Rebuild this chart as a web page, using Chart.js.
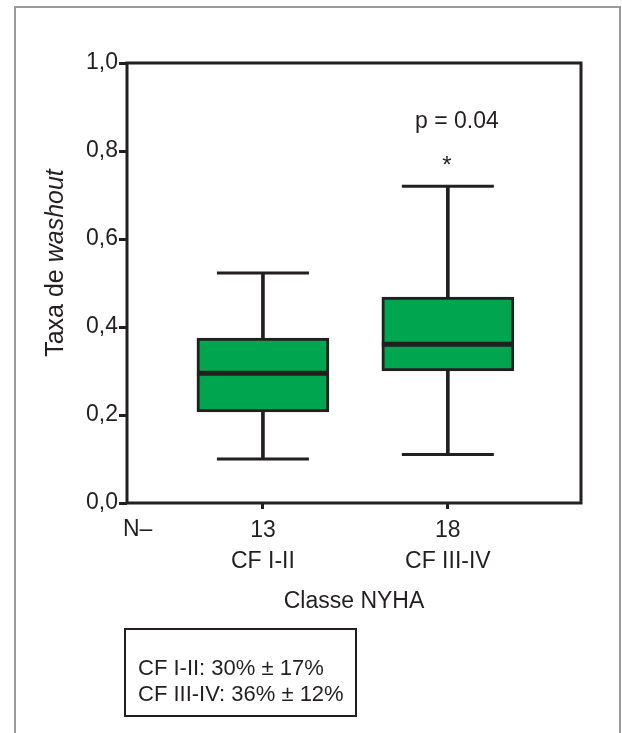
<!DOCTYPE html>
<html>
<head>
<meta charset="utf-8">
<script src="https://cdn.jsdelivr.net/npm/chart.js@4.4.0/dist/chart.umd.min.js"></script>
<style>
  html, body { margin: 0; padding: 0; background: #fff; overflow: hidden; }
  body { width: 622px; height: 733px; position: relative; color: #231f20;
         font-family: 'Liberation Sans Narrow', 'Arial Narrow', 'Liberation Sans', sans-serif; }
  #frame { position: absolute; left: 14px; top: 6px; width: 607px; height: 780px;
           border: 2px solid #9a9a9a; box-sizing: border-box; }
  #chart { position: absolute; left: 0; top: 0; }
  #stats { position: absolute; left: 124px; top: 628px; width: 233px; height: 89px;
           border: 2px solid #231f20; box-sizing: border-box; padding: 25px 0 0 12px;
           font-size: 22px; line-height: 26px; white-space: nowrap; }
</style>
</head>
<body>
<div id="frame"></div>
<canvas id="chart" width="622" height="733"></canvas>
<div id="stats"></div>
<script>
// data
const groups = ["CF I-II", "CF III-IV"];
const nCounts = ["13", "18"];
const xPos = [1, 2];
const whiskerLow = [0.10, 0.11];
const q1 = [0.207, 0.30];
const median = [0.295, 0.361];
const q3 = [0.375, 0.468];
const whiskerHigh = [0.523, 0.72];
const yTicks = [0, 0.2, 0.4, 0.6, 0.8, 1.0];
const statLines = ["CF I-II: 30% ± 17%", "CF III-IV: 36% ± 12%"];
const pValueText = "p = 0.04";
const starText = "*";

const INK = "#231f20";
const GREEN = "#00a54f";
const FAMILY = "'Liberation Sans Narrow', 'Arial Narrow', 'Liberation Sans', sans-serif";

document.getElementById("stats").innerHTML = statLines.join("<br>");

// frame, y title, N label and p-value annotation
const extras = {
  id: "extras",
  afterDraw(chart) {
    const { ctx, chartArea: a, scales } = chart;
    ctx.save();
    ctx.strokeStyle = INK;
    ctx.lineWidth = 3;
    ctx.strokeRect(a.left, a.top, a.right - a.left, a.bottom - a.top);

    ctx.fillStyle = INK;
    ctx.textBaseline = "alphabetic";

    // y axis title, "washout" in italics
    const partA = "Taxa de ";
    const partB = "washout";
    ctx.font = "25px " + FAMILY;
    const wA = ctx.measureText(partA).width;
    ctx.font = "italic 25px " + FAMILY;
    const wB = ctx.measureText(partB).width;
    ctx.translate(63, 263 + (wA + wB) / 2);
    ctx.rotate(-Math.PI / 2);
    ctx.textAlign = "left";
    ctx.font = "25px " + FAMILY;
    ctx.fillText(partA, 0, 0);
    ctx.font = "italic 25px " + FAMILY;
    ctx.fillText(partB, wA, 0);
    ctx.setTransform(1, 0, 0, 1, 0, 0);

    // N– at the start of the x axis
    ctx.font = "23px " + FAMILY;
    ctx.textAlign = "left";
    ctx.fillText("N–", a.left - 4, 536);

    // p value and star above the second group
    const px = scales.x.getPixelForValue(xPos[1]);
    const capY = scales.y.getPixelForValue(whiskerHigh[1]);
    ctx.textAlign = "center";
    ctx.font = "23px " + FAMILY;
    ctx.fillText(pValueText, px + 9, capY - 58);
    ctx.font = "24px " + FAMILY;
    ctx.fillText(starText, px - 1, capY - 13);
    ctx.restore();
  }
};

new Chart(document.getElementById("chart").getContext("2d"), {
  type: "bar",
  data: {
    datasets: [
      {
        type: "scatter",
        label: "Mediana",
        data: xPos.map((x, i) => ({ x: x, y: median[i] })),
        pointStyle: "line",
        pointRadius: 66,
        pointBorderWidth: 5,
        pointBorderColor: INK,
        order: 1
      },
      {
        type: "scatter",
        label: "Extremos",
        data: xPos.map((x, i) => ({ x: x, y: whiskerLow[i] }))
          .concat(xPos.map((x, i) => ({ x: x, y: whiskerHigh[i] }))),
        pointStyle: "line",
        pointRadius: 46,
        pointBorderWidth: 3,
        pointBorderColor: INK,
        order: 2
      },
      {
        label: "Q1-Q3",
        data: xPos.map((x, i) => ({ x: x, y: [q1[i], q3[i]] })),
        backgroundColor: GREEN,
        borderColor: INK,
        borderWidth: 3,
        borderSkipped: false,
        barThickness: 132,
        grouped: false,
        order: 3
      },
      {
        label: "Whisker",
        data: xPos.map((x, i) => ({ x: x, y: [whiskerLow[i], whiskerHigh[i]] })),
        backgroundColor: INK,
        borderWidth: 0,
        barThickness: 3,
        grouped: false,
        order: 4
      }
    ]
  },
  options: {
    responsive: false,
    animation: false,
    events: [],
    layout: { autoPadding: false, padding: { left: 0, top: 63, right: 41, bottom: 0 } },
    plugins: {
      legend: { display: false },
      tooltip: { enabled: false }
    },
    scales: {
      x: {
        type: "linear",
        min: 0.265,
        max: 2.72,
        offset: false,
        afterBuildTicks: s => { s.ticks = xPos.map(v => ({ value: v })); },
        afterFit: s => { s.height = 230; },
        ticks: {
          callback: (v, i) => [nCounts[i], groups[i]],
          color: INK,
          font: { family: FAMILY, size: 23, lineHeight: 1.35 },
          padding: 6,
          maxRotation: 0,
          autoSkip: false
        },
        grid: { offset: false, drawOnChartArea: false, tickLength: 6, color: INK, lineWidth: 3 },
        border: { display: false },
        title: {
          display: true,
          text: "Classe NYHA",
          color: INK,
          font: { family: FAMILY, size: 23 },
          padding: { top: 0, bottom: 118 }
        }
      },
      y: {
        min: 0,
        max: 1,
        afterBuildTicks: s => { s.ticks = yTicks.map(v => ({ value: v })); },
        afterFit: s => { s.width = 127; },
        ticks: {
          callback: v => v.toFixed(1).replace(".", ","),
          color: INK,
          font: { family: FAMILY, size: 23 },
          padding: 1
        },
        grid: { drawOnChartArea: false, tickLength: 8, color: INK, lineWidth: 3 },
        border: { display: false }
      }
    }
  },
  plugins: [extras]
});
</script>
</body>
</html>
